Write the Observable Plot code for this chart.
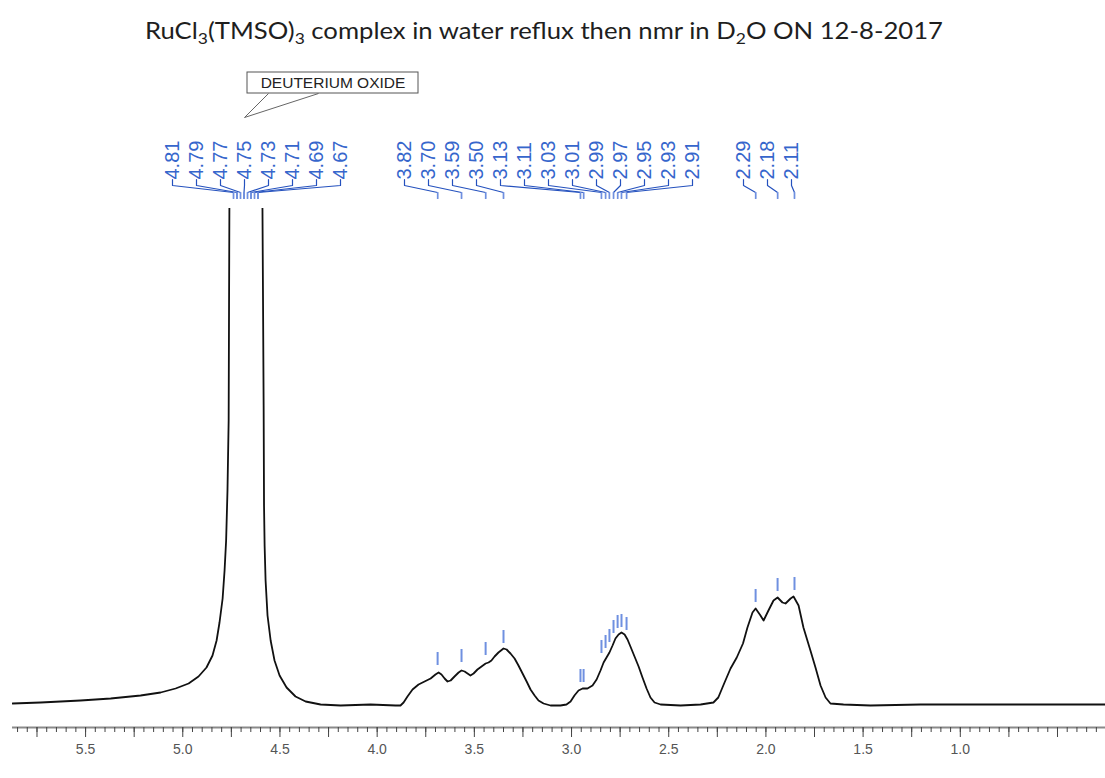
<!DOCTYPE html>
<html><head><meta charset="utf-8">
<script src="https://cdn.jsdelivr.net/npm/d3@7"></script>
<script src="https://cdn.jsdelivr.net/npm/@observablehq/plot@0.6"></script>
<style>
html,body{margin:0;padding:0;background:#fff;}
#title{position:relative;height:55px;font-family:Lato,"Open Sans",sans-serif;font-size:23px;color:#1e1e1e;white-space:nowrap;}
#t{position:absolute;left:145px;top:16px;line-height:28px;transform-origin:left center;}
sub{font-size:68%;vertical-align:-0.3em;line-height:0;}
#chart svg{display:block;}
</style></head><body>
<div id="title"><span id="t">RuCl<sub>3</sub>(TMSO)<sub>3</sub> complex in water reflux then nmr in D<sub>2</sub>O ON 12-8-2017</span></div>
<div id="chart"></div>
<script>
// ---- spectrum (chemical shift in ppm, intensity in arbitrary units) ----
const ppm = [5.876,5.731,5.526,5.371,5.217,5.114,5.037,4.970,4.919,4.878,4.847,4.826,4.811,4.795,4.785,4.777,4.770,4.764,4.762,4.759,4.723,4.677,4.631,4.592,4.587,4.584,4.582,4.579,4.574,4.564,4.548,4.528,4.502,4.466,4.420,4.368,4.291,4.188,4.034,3.905,
3.880,3.864,3.844,3.818,3.787,3.756,3.725,3.700,3.684,3.669,3.653,3.638,3.622,3.602,3.581,3.566,3.550,3.535,3.520,3.504,3.484,3.463,3.442,3.427,3.412,3.396,3.376,3.350,3.334,3.314,3.293,3.273,3.252,3.231,3.211,3.190,3.170,3.144,3.108,3.057,
3.026,3.005,2.985,2.964,2.943,2.918,2.892,2.871,2.851,2.835,2.820,2.805,2.789,2.774,2.758,2.743,2.727,2.712,2.697,2.676,2.655,2.635,2.614,2.594,2.573,2.542,2.439,2.336,2.270,
2.245,2.215,2.182,2.150,2.118,2.095,2.069,2.053,2.028,2.012,1.987,1.961,1.940,1.915,1.899,1.873,1.858,1.832,1.807,1.771,1.745,1.719,1.693,1.668,1.601,1.462,1.205,0.793,0.253];
const intensity = [2,3,5,7,10,13,17,22,29,38,50,65,83,107,135,165,215,285,400,560,1500,2600,1500,560,400,300,200,160,125,90,65,45,30,18,9,4,1,0,1,0,
0,3,9,16,21,24,27,31,33,31,27,24,25,29,33,35,34,32,30,32,36,39,42,43,45,49,53,57,56,52,47,40,32,24,16,10,5,2,0,0,
1,4,10,15,17,17,20,26,35,43,48,53,60,67,71,73,71,66,59,49,39,28,17,8,3,1,0,1,3,
8,22,37,48,62,78,93,97,90,85,95,105,108,103,102,107,109,100,78,55,38,20,8,2,1,0,1,1,1];

// ---- peak picking ----
const peakLabels = ["4.81","4.79","4.77","4.75","4.73","4.71","4.69","4.67",
  "3.82","3.70","3.59","3.50","3.13","3.11","3.03","3.01","2.99","2.97","2.95","2.93","2.91",
  "2.29","2.18","2.11"];
const peakGroup = [1,1,1,1,1,1,1,1, 2,2,2,2,2,2,2,2,2,2,2,2,2, 3,3,3];
const peakShift = [4.739,4.721,4.703,4.685,4.667,4.649,4.631,4.613,
  3.689,3.566,3.442,3.350,2.954,2.938,2.846,2.825,2.805,2.784,2.763,2.743,2.717,
  2.053,1.940,1.853];
const peakHeight = [null,null,null,null,null,null,null,null,
  35,38,45,57,18,18,47,52,58,67,72,73,70,
  98,109,110];
const solventLabel = "DEUTERIUM OXIDE";
const axisLabels = [5.5,5.0,4.5,4.0,3.5,3.0,2.5,2.0,1.5,1.0];

// ---- layout ----
const W = 1105, H = 723, TOP = 55;
const xDomain = [5.876, 0.253];
const yDomain = [-22, 497];
const mL = 12, mR = 0, mT = 153, mB = 51;
const xs = Plot.scale({x: {domain: xDomain, range: [mL, W - mR]}});
const ys = Plot.scale({y: {domain: yDomain, range: [H - mB, mT]}});
const Y = py => ys.invert(py - TOP);   // page pixel row -> y value
const X = px => xs.invert(px);        // page pixel column -> x value

const spec = ppm.map((p, i) => ({ppm: p, v: intensity[i]}));

const labelStart = {1: 172, 2: 404, 3: 743};
const step = 24;
const cnt = {};
const labels = peakLabels.map((t, i) => {
  const g = peakGroup[i];
  cnt[g] = (cnt[g] ?? -1) + 1;
  return {t, g, lx: X(labelStart[g] + cnt[g] * step), px: peakShift[i], h: peakHeight[i]};
});
const conn = labels.flatMap((d, i) => [
  {i, x: d.lx, y: Y(179)}, {i, x: d.lx, y: Y(185)},
  {i, x: d.px, y: Y(192)}, {i, x: d.px, y: Y(198)}
]);
const markers = labels.filter(d => d.h != null);

const tipPx = xs.apply(labels[3].lx);
const callout = [{
  tipX: X(tipPx), tipY: Y(117),
  ax: X(tipPx + 24), bx: X(tipPx + 74), baseY: Y(93),
  x1: X(tipPx + 3), x2: X(tipPx + 174), y1: Y(93), y2: Y(72),
  tx: X(tipPx + 88.5), ty: Y(83)
}];

const minorTicks = d3.range(6, 118).map(k => k * 0.05).filter(v => v <= xDomain[0] && v >= xDomain[1]);
const midTicks = d3.range(2, 24).map(k => k * 0.25).filter(v => v <= xDomain[0] && v >= xDomain[1]);

const blue = "#3666cc";
const chart = Plot.plot({
  width: W, height: H,
  marginLeft: mL, marginRight: mR, marginTop: mT, marginBottom: mB,
  x: {domain: xDomain, axis: null},
  y: {domain: yDomain, axis: null},
  style: {fontFamily: "'Liberation Sans', Arial, sans-serif", background: "#fff"},
  marks: [
    // x axis
    Plot.ruleY([yDomain[0]], {stroke: "#8a8a8a", strokeWidth: 2}),
    Plot.ruleX(minorTicks, {x: d => d, y1: Y(727), y2: Y(732), stroke: "#444", strokeWidth: 1}),
    Plot.ruleX(midTicks, {x: d => d, y1: Y(727), y2: Y(737), stroke: "#444", strokeWidth: 1}),
    Plot.text(axisLabels, {x: d => d, y: Y(749), text: d => d.toFixed(1), fontSize: 14, fill: "#555"}),
    // spectrum
    Plot.line(spec, {x: "ppm", y: "v", stroke: "#111", strokeWidth: 1.8, clip: true}),
    // peak markers above the trace
    Plot.ruleX(markers, {x: "px", y1: d => d.h + 5, y2: d => d.h + 18, stroke: "#6f90e0", strokeWidth: 2}),
    // label connectors
    Plot.line(conn, {x: "x", y: "y", z: "i", stroke: "#2451be", strokeWidth: 1.2}),
    Plot.ruleX(labels, {x: "px", y1: Y(192), y2: Y(199), stroke: "#6f90e0", strokeWidth: 1.5}),
    Plot.text(labels, {x: "lx", y: Y(179), text: "t", rotate: -90, textAnchor: "start", fontSize: 20, fill: blue}),
    // solvent callout
    Plot.link(callout, {x1: "tipX", y1: "tipY", x2: "ax", y2: "baseY", stroke: "#666", strokeWidth: 1}),
    Plot.link(callout, {x1: "tipX", y1: "tipY", x2: "bx", y2: "baseY", stroke: "#666", strokeWidth: 1}),
    Plot.rect(callout, {x1: "x1", x2: "x2", y1: "y1", y2: "y2", fill: "#fff", stroke: "#555", strokeWidth: 1}),
    Plot.text(callout, {x: "tx", y: "ty", text: () => solventLabel, fontSize: 15.5, fill: "#222"})
  ]
});
document.getElementById("chart").append(chart);

// fit the title to the reference width
const t = document.getElementById("t");
const w = t.getBoundingClientRect().width;
t.style.transform = `scaleX(${798 / w})`;
</script>
</body></html>
